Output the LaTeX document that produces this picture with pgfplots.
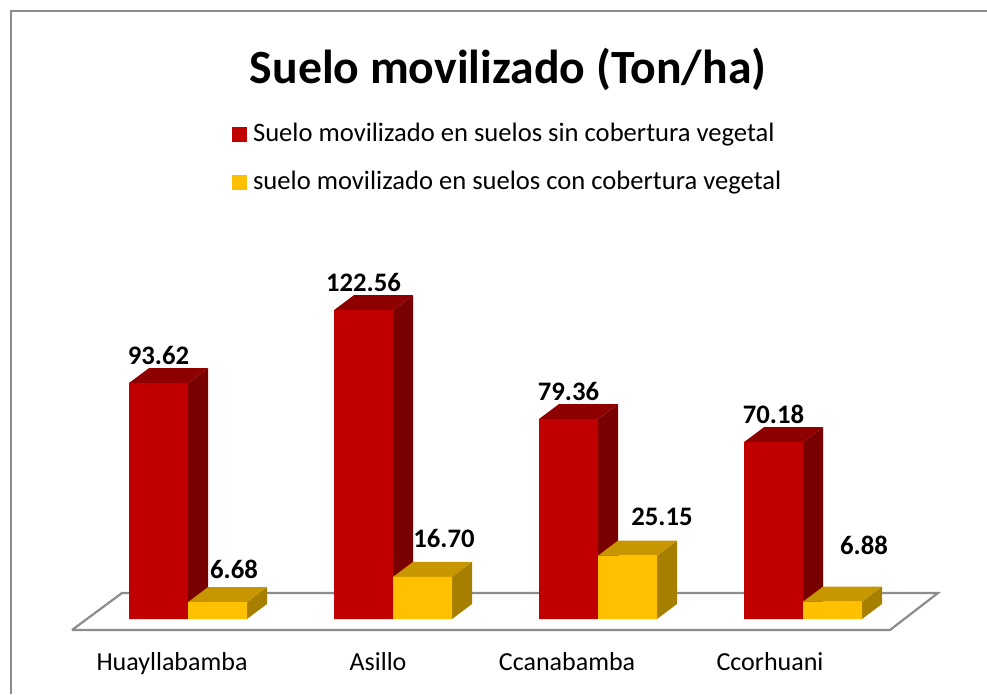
\documentclass[border=0pt]{standalone}
\usepackage{fontspec}
\setmainfont{Carlito}
\usepackage{pgfplots}
\usepackage{pgfplotstable}
\pgfplotsset{compat=1.18}
\definecolor{redF}{HTML}{C00000}
\definecolor{redS}{HTML}{780000}
\definecolor{redT}{HTML}{8E0000}
\definecolor{yelF}{HTML}{FFC000}
\definecolor{yelS}{HTML}{A67F00}
\definecolor{yelT}{HTML}{C79600}
\definecolor{framec}{HTML}{8C8C8C}

\pgfplotstableread{
c red yel
0 93.62 6.68
1 122.56 16.70
2 79.36 25.15
3 70.18 6.88
}\datatable

\def\dx{0.09756}
\def\dy{5.952}
\def\bw{0.28780}

\newcommand\faces[4]{%
  \pgfmathsetmacro\xL{#1}%
  \pgfmathsetmacro\xR{#1+\bw}%
  \pgfmathsetmacro\xLd{#1+\dx}%
  \pgfmathsetmacro\xRd{#1+\bw+\dx}%
  \pgfmathsetmacro\vd{#2+\dy}%
  \addplot[fill=#3, draw=none, forget plot] coordinates {(\xR,0) (\xRd,\dy) (\xRd,\vd) (\xR,#2)};
  \addplot[fill=#4, draw=none, forget plot] coordinates {(\xL,#2) (\xLd,\vd) (\xRd,\vd) (\xR,#2)};
}

\begin{document}
\begin{tikzpicture}
\begin{axis}[
  x=205pt, y=2.52pt,
  xmin=-0.917073, xmax=3.897561,
  ymin=-29.7619, ymax=245.6349,
  hide axis, clip=false,
  legend cell align=left,
  legend style={draw=none, fill=none, at={(rel axis cs:0.2351,0.8256)}, anchor=north west,
    inner sep=0pt, outer sep=0pt, row sep=22pt,
    font=\fontsize{26.6}{32}\selectfont,
    nodes={inner sep=0pt, text height=20pt, text depth=6pt},
    /tikz/every odd column/.append style={column sep=6pt}},
]
% floor
\addplot[fill=white, draw=framec, line width=2.2pt, forget plot] coordinates
  {(-0.5659,-4.365) (3.4244,-4.365) (3.6585,10.317) (-0.3220,10.317) (-0.5659,-4.365)};
% red side and top faces
\pgfplotsforeachungrouped \i in {0,1,2,3}{%
  \pgfplotstablegetelem{\i}{red}\of\datatable
  \let\vr\pgfplotsretval
  \faces{\i-\bw}{\vr}{redS}{redT}%
}
% red front faces
\addplot[ybar, bar width=59pt, bar shift=-29.5pt, fill=redF, draw=none,
  legend image code/.code={\fill[redF] (0pt,-7.5pt) rectangle (15pt,7.5pt);},
  nodes near coords={\pgfmathprintnumber[fixed,fixed zerofill,precision=2,assume math mode=true]{\pgfplotspointmeta}},
  nodes near coords align={anchor=base},
  every node near coord/.append style={xshift=-29.5pt, yshift=19pt, inner sep=0pt, text=black,
     font=\fontsize{26.7}{32}\selectfont\bfseries}]
  table[x=c, y=red] {\datatable};
\addlegendentry{Suelo movilizado en suelos sin cobertura vegetal}
% yellow side and top faces
\pgfplotsforeachungrouped \i in {0,1,2,3}{%
  \pgfplotstablegetelem{\i}{yel}\of\datatable
  \let\vy\pgfplotsretval
  \faces{\i}{\vy}{yelS}{yelT}%
}
% yellow front faces
\addplot[ybar, bar width=59pt, bar shift=29.5pt, fill=yelF, draw=none,
  legend image code/.code={\fill[yelF] (0pt,-7.5pt) rectangle (15pt,7.5pt);}]
  table[x=c, y=yel] {\datatable};
\addlegendentry{suelo movilizado en suelos con cobertura vegetal}
% yellow data labels
\addplot[draw=none, mark=none, forget plot, point meta=explicit symbolic,
  nodes near coords, nodes near coords align={anchor=base},
  every node near coord/.append style={inner sep=0pt, text=black,
     font=\fontsize{26.7}{32}\selectfont\bfseries}]
  coordinates {(0.2244,16.27)[6.68] (1.2488,28.57)[16.70] (2.3122,37.30)[25.15] (3.2976,25.40)[6.88]};
% title
\node[anchor=base, font=\fontsize{47.7}{56}\selectfont\bfseries] at (rel axis cs:0.5147,0.8790) {Suelo movilizado (Ton/ha)};
% category labels
\node[anchor=base, font=\fontsize{26}{30}\selectfont] at (axis cs:-0.078,-20.24) {Huayllabamba};
\node[anchor=base, font=\fontsize{26}{30}\selectfont] at (axis cs:0.927,-20.24) {Asillo};
\node[anchor=base, font=\fontsize{26}{30}\selectfont] at (axis cs:1.849,-20.24) {Ccanabamba};
\node[anchor=base, font=\fontsize{26}{30}\selectfont] at (axis cs:2.839,-20.24) {Ccorhuani};
% chart frame
\draw[framec, line width=2pt] (rel axis cs:0.01115,0) -- (rel axis cs:0.01115,0.98415) -- (rel axis cs:1,0.98415);
\end{axis}
\pgfresetboundingbox
\path (current axis.south west) rectangle (current axis.north east);
\end{tikzpicture}
\end{document}
